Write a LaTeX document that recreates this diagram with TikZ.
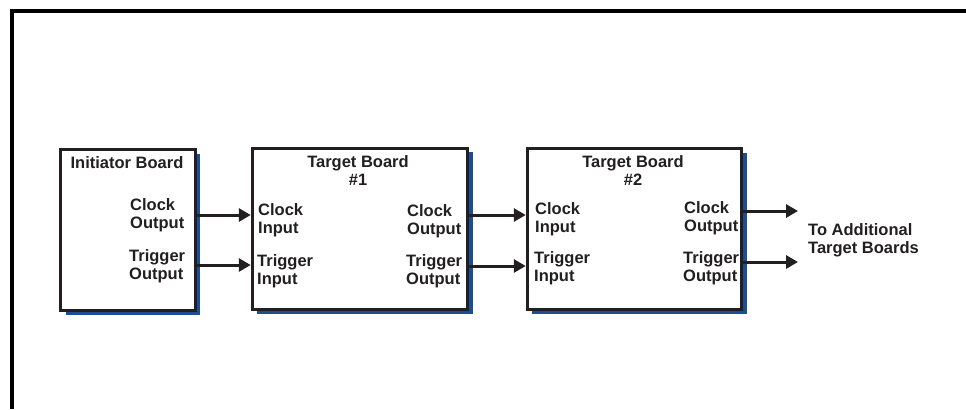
\documentclass[tikz,border=0pt]{standalone}
\usepackage{fontspec}
\setmainfont{Liberation Sans}
\usetikzlibrary{arrows.meta,shadows}
\definecolor{ink}{RGB}{35,31,32}
\definecolor{sblue}{RGB}{30,78,146}
\newcommand{\twol}[2]{\begin{tabular}[t]{@{}l@{}}#1\\#2\end{tabular}}
\newcommand{\twoc}[2]{\begin{tabular}[t]{@{}c@{}}#1\\#2\end{tabular}}
\tikzset{
  board/.style={draw=ink, line width=3bp, fill=white, rectangle, inner sep=0pt,
    drop shadow={shadow xshift=5bp, shadow yshift=-4bp, opacity=1, fill=sblue}},
  lbl/.style={inner sep=0pt, text=ink, font=\fontsize{16.5bp}{18.5bp}\selectfont\bfseries},
  arr/.style={draw=ink, line width=3bp, -{Triangle[length=12bp,width=13bp]}},
  frame/.style={draw=black, line width=4bp, line join=miter}
}
\begin{document}
\begin{tikzpicture}[x=1bp,y=-1bp]
\useasboundingbox (0,0) rectangle (966,409);
\path[fill=white] (0,0) rectangle (966,409);
% frame (top and left edges)
\coordinate (fr) at (966,10.5);
\coordinate (fc) at (11.5,10.5);
\coordinate (fb) at (11.5,409);
\draw[frame] (fr) -- (fc) -- (fb);

% boards
\node[board, minimum width=134bp, minimum height=161bp] (init) at (128,230) {};
\node[board, minimum width=215.5bp, minimum height=161.5bp] (t1) at (360,229) {};
\node[board, minimum width=214.5bp, minimum height=161bp] (t2) at (634.5,229) {};

% titles
\node[lbl, anchor=base] (initT) at (127,168) {Initiator Board};
\node[lbl, anchor=base] (t1T) at (358,167) {\twoc{Target Board}{\#1}};
\node[lbl, anchor=base] (t2T) at (633,167) {\twoc{Target Board}{\#2}};

% initiator labels
\node[lbl, anchor=base west] (iCO) at (130,210) {\twol{Clock}{Output}};
\node[lbl, anchor=base west] (iTO) at (129,261) {\twol{Trigger}{Output}};
% target 1 labels
\node[lbl, anchor=base west] (aCI) at (258,215) {\twol{Clock}{Input}};
\node[lbl, anchor=base west] (aTI) at (257,266) {\twol{Trigger}{Input}};
\node[lbl, anchor=base west] (aCO) at (407,216) {\twol{Clock}{Output}};
\node[lbl, anchor=base west] (aTO) at (406,266) {\twol{Trigger}{Output}};
% target 2 labels
\node[lbl, anchor=base west] (bCI) at (535,214) {\twol{Clock}{Input}};
\node[lbl, anchor=base west] (bTI) at (534,263) {\twol{Trigger}{Input}};
\node[lbl, anchor=base west] (bCO) at (684,213) {\twol{Clock}{Output}};
\node[lbl, anchor=base west] (bTO) at (683,263) {\twol{Trigger}{Output}};
% additional
\node[lbl, anchor=base west] (add) at (808,235) {\twol{To Additional}{Target Boards}};

% port levels
\coordinate (y1c) at (0,215);
\coordinate (y1t) at (0,265);
\coordinate (y2c) at (0,215);
\coordinate (y2t) at (0,266);
\coordinate (oc) at (798,211);
\coordinate (ot) at (798,262);

% connectors
\draw[arr] (init.east |- y1c) -- (t1.west |- y1c);
\draw[arr] (init.east |- y1t) -- (t1.west |- y1t);
\draw[arr] (t1.east |- y2c) -- (t2.west |- y2c);
\draw[arr] (t1.east |- y2t) -- (t2.west |- y2t);
\draw[arr] (t2.east |- oc) -- (oc);
\draw[arr] (t2.east |- ot) -- (ot);
\end{tikzpicture}
\end{document}
